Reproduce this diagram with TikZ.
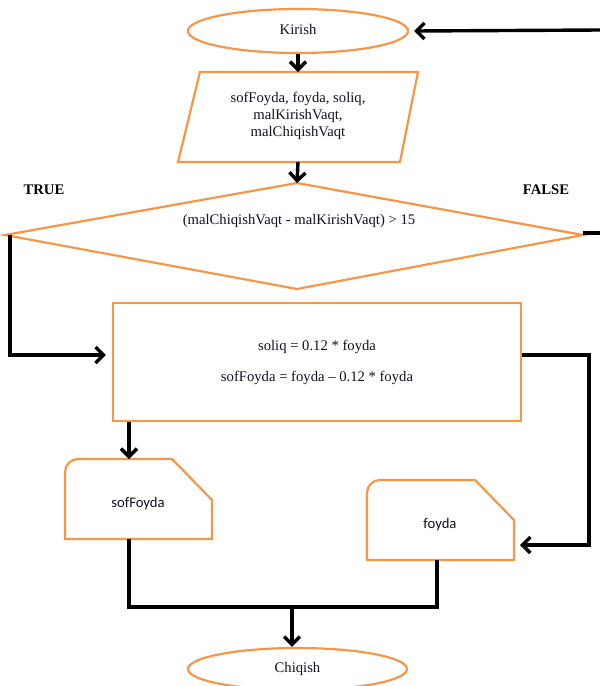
\documentclass[tikz,border=0pt]{standalone}
\usepackage{fontspec}
\setmainfont{Liberation Serif}
\newfontfamily\calfont{Carlito}
\usetikzlibrary{arrows.meta,shapes.geometric}
\definecolor{boxorange}{HTML}{F79646}
\definecolor{txtdark}{HTML}{10101E}
\tikzset{
  shp/.style={draw=boxorange,line width=2.2pt,line join=miter},
  conn/.style={draw=black,line width=3.4pt,line join=miter},
  arr/.style={conn,-{Straight Barb[length=8pt,width=16pt]}},
  txt/.style={font=\fontsize{14.67}{17}\selectfont,inner sep=0pt,align=center,text=txtdark},
  boldtxt/.style={font=\fontsize{14.67}{17}\selectfont\bfseries,inner sep=0pt,text=black},
  sanstxt/.style={font=\calfont\fontsize{14.67}{17}\selectfont,inner sep=0pt,text=txtdark}
}
\begin{document}
\begin{tikzpicture}[x=1pt,y=-1pt]
\useasboundingbox (0,0) rectangle (600,686);
% start
\node[shp,ellipse,minimum width=220pt,minimum height=44pt,txt] (kir) at (298,31) {\raisebox{3pt}{Kirish}};
% input parallelogram
\coordinate (pTL) at (200,72);
\coordinate (pTR) at (418,72);
\coordinate (pBR) at (400,162);
\coordinate (pBL) at (178,162);
\coordinate (pTop) at (298,72);
\coordinate (pBot) at (298,162);
\draw[shp] (pTL)--(pTR)--(pBR)--(pBL)--cycle;
\node[txt] (inp) at (298,116) {sofFoyda, foyda, soliq,\\malKirishVaqt,\\malChiqishVaqt};
% decision
\coordinate (dT) at (297,183);
\coordinate (dR) at (583,235);
\coordinate (dB) at (297,289);
\coordinate (dL) at (5,235);
\draw[shp] (dT)--(dR)--(dB)--(dL)--cycle;
\node[txt] (cond) at (299,221) {(malChiqishVaqt - malKirishVaqt) > 15};
\node[boldtxt] (tl) at (44,190) {TRUE};
\node[boldtxt] (fl) at (546,190) {FALSE};
% process
\node[shp,rectangle,minimum width=408pt,minimum height=118pt,txt,font=\fontsize{14.67}{31}\selectfont] (calc) at (317,362) {soliq = 0.12 * foyda\\sofFoyda = foyda – 0.12 * foyda};
% outputs
\draw[shp] (65,539) -- (65,472) .. controls (65,464.8) and (70.8,459) .. (78,459) -- (172,459) -- (212,500) -- (212,539) -- cycle;
\node[sanstxt] (sof) at (138,504) {sofFoyda};
\draw[shp] (367,560) -- (367,493) .. controls (367,485.8) and (372.8,480) .. (380,480) -- (475,480) -- (514,520) -- (514,560) -- cycle;
\node[sanstxt] (foy) at (440,525) {foyda};
% end
\node[shp,ellipse,minimum width=219pt,minimum height=42pt,txt] (chq) at (297.5,669) {\raisebox{2pt}{Chiqish}};
% connectors
\coordinate (inR) at (600,30);
\coordinate (fOut) at (600,233);
\coordinate (tDown) at (10,235);
\coordinate (rTurn) at (589,545);
\coordinate (foyR) at (520,545);
\coordinate (sofT) at (129,459);
\coordinate (sofB) at (129,539);
\coordinate (foyB) at (437,560);
\coordinate (mrg) at (292,607);
\draw[arr] (inR) -- ([xshift=5pt]kir.east);
\draw[arr] (kir.south) -- (pTop);
\draw[arr] (pBot) -- (dT);
\draw[conn] (dR |- fOut) -- (fOut);
\draw[arr] (tDown) |- ([xshift=-6pt,yshift=7pt]calc.west);
\draw[arr] ([yshift=7pt]calc.east) -| (rTurn) -- (foyR);
\draw[arr] (calc.south -| sofT) -- (sofT);
\draw[conn] (sofB) |- (mrg) -| (foyB);
\draw[arr] (mrg) -- (mrg |- chq.north);
\end{tikzpicture}
\end{document}
